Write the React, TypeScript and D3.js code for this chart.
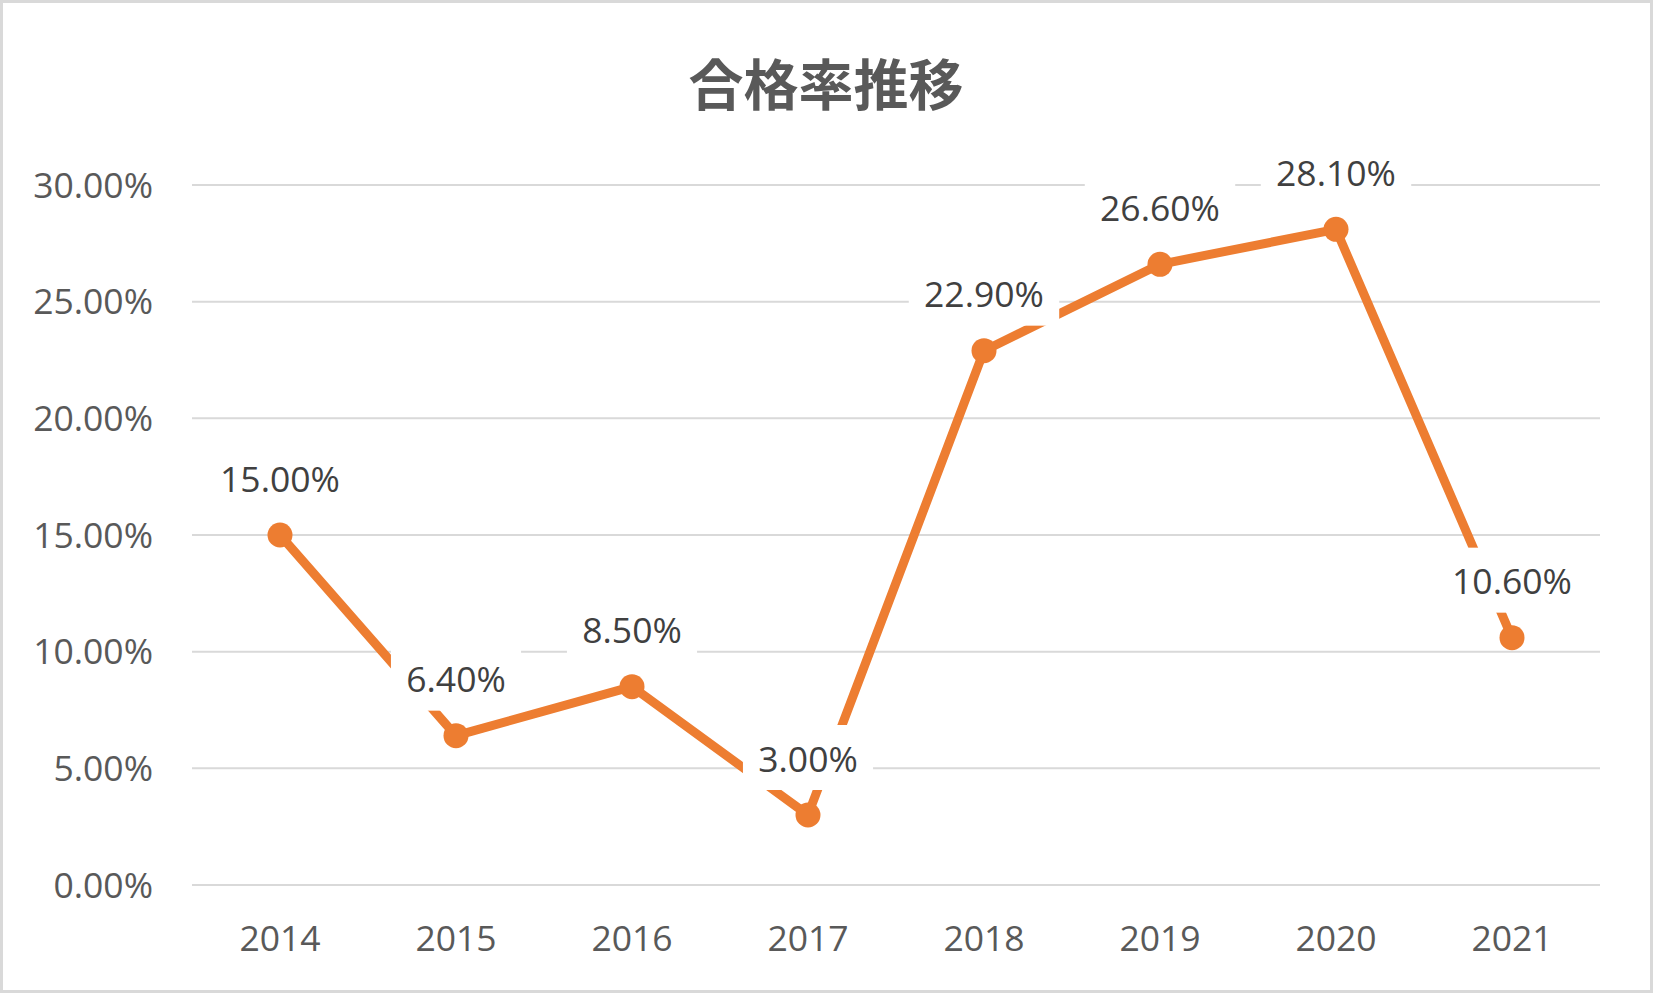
import React from "react";
import * as d3 from "d3";

const years: string[] = ["2014", "2015", "2016", "2017", "2018", "2019", "2020", "2021"];
const rates: number[] = [0.15, 0.064, 0.085, 0.03, 0.229, 0.266, 0.281, 0.106];
const yTicks: number[] = [0, 0.05, 0.1, 0.15, 0.2, 0.25, 0.3];
const title = "合格率推移";

const W = 1653;
const H = 993;
const FONT = "'Open Sans', 'Noto Sans', sans-serif";
const FS = 35.5;

export default function App() {
  const x = d3.scaleBand<string>().domain(years).range([192, 1600]);
  const y = d3.scaleLinear().domain([0, 0.3]).range([885, 185]);
  const fmt = d3.format(".2%");
  const cx = (d: string) => (x(d) as number) + x.bandwidth() / 2;
  const pts: [number, number][] = years.map((d, i) => [cx(d), y(rates[i])]);
  const line = d3.line()(pts) as string;

  // approximate text width for Open Sans
  const textW = (s: string) => {
    let w = 0;
    for (const ch of s) {
      if (ch === ".") w += 0.266;
      else if (ch === "%") w += 0.838;
      else w += 0.572;
    }
    return w * FS;
  };

  return (
    <svg
      width={W}
      height={H}
      style={{ position: "absolute", left: 0, top: 0, background: "#fff" }}
    >
      <rect x={0} y={0} width={W} height={H} fill="#fff" />
      <rect x={1.5} y={1.5} width={W - 3} height={H - 3} fill="none" stroke="#d9d9d9" strokeWidth={3} />
      <text
        x={826}
        y={81}
        textAnchor="middle"
        dominantBaseline="central"
        fontFamily="'Noto Sans CJK JP', 'Noto Sans CJK SC', sans-serif"
        fontWeight="bold"
        fontSize={55}
        fill="#595959"
      >
        {title}
      </text>
      {yTicks.map((t) => (
        <g key={t}>
          <line x1={192} x2={1600} y1={y(t)} y2={y(t)} stroke="#d9d9d9" strokeWidth={2} />
          <text
            x={153}
            y={y(t) + 0.357 * FS}
            textAnchor="end"
            fontFamily={FONT}
            fontSize={FS}
            fill="#595959"
          >
            {fmt(t)}
          </text>
        </g>
      ))}
      {years.map((d) => (
        <text
          key={d}
          x={cx(d)}
          y={938 + 0.357 * FS}
          textAnchor="middle"
          fontFamily={FONT}
          fontSize={FS}
          fill="#595959"
        >
          {d}
        </text>
      ))}
      <path d={line} fill="none" stroke="#ED7D31" strokeWidth={9} strokeLinejoin="round" />
      {pts.map((p, i) => (
        <circle key={i} cx={p[0]} cy={p[1]} r={12.5} fill="#ED7D31" />
      ))}
      {pts.map((p, i) => {
        const s = fmt(rates[i]);
        const tw = textW(s);
        const c = p[1] - 56;
        return (
          <g key={"l" + i}>
            <rect x={p[0] - tw / 2 - 15} y={c - 34} width={tw + 30} height={65} fill="#fff" />
            <text
              x={p[0]}
              y={c + 0.357 * FS}
              textAnchor="middle"
              fontFamily={FONT}
              fontSize={FS}
              fill="#404040"
            >
              {s}
            </text>
          </g>
        );
      })}
    </svg>
  );
}
